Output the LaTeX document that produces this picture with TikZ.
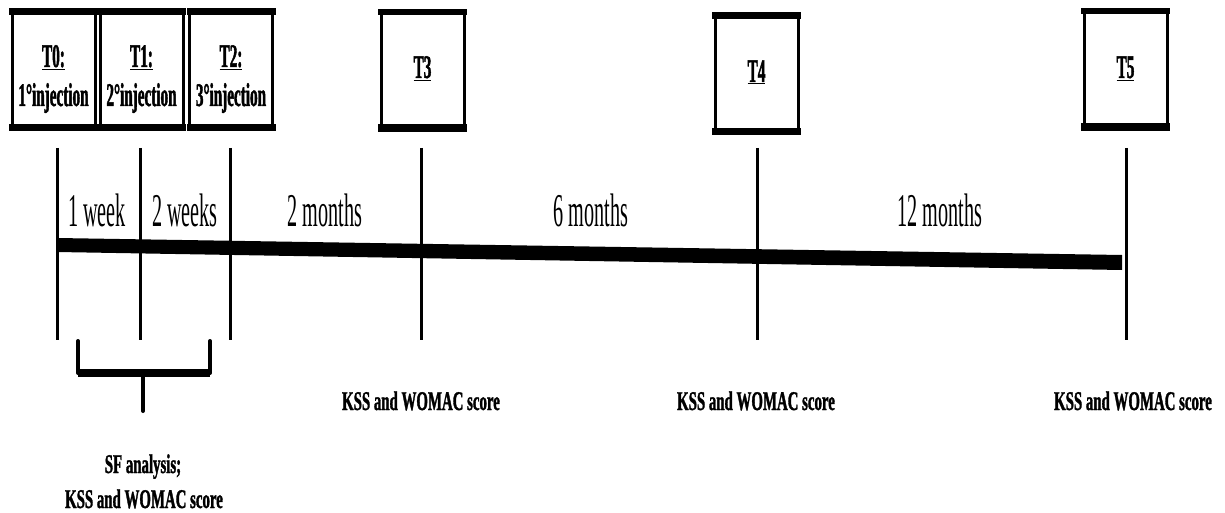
\documentclass[tikz,border=0pt]{standalone}
\usepackage{fontspec}
\setmainfont{Liberation Serif}
\newfontfamily\tlfont[FakeStretch=0.43]{Liberation Serif}
\newfontfamily\bxfont[FakeStretch=0.46,BoldFeatures={FakeBold=1.2}]{Liberation Serif}
\newfontfamily\scfont[FakeStretch=0.55,BoldFeatures={FakeBold=1.2}]{Liberation Serif}
\begin{document}
\begin{tikzpicture}[x=1pt,y=-1pt,
  tbox/.style={draw, line width=3pt, minimum width=83pt, minimum height=117pt, inner sep=0pt},
  blbl/.style={anchor=base, inner sep=0pt, font=\bxfont\bfseries\fontsize{33}{38}\selectfont},
  tlbl/.style={anchor=base, inner sep=0pt, font=\tlfont\fontsize{47}{52}\selectfont},
  slbl/.style={anchor=base, inner sep=0pt, font=\scfont\bfseries\fontsize{27}{32}\selectfont},
  tick/.style={line width=3pt},
  brk/.style={line width=4pt, line cap=round, line join=round}]
\useasboundingbox (0,0) rectangle (1225,513);
% boxes
\node[tbox] (b0) at (53.5,70) {};
\node[tbox] (b1) at (141.5,70) {};
\node[tbox] (b2) at (231,70) {};
\node[tbox] (b3) at (422.5,70.5) {};
\node[tbox] (b4) at (756.5,74) {};
\node[tbox] (b5) at (1125.5,69.5) {};
\foreach \b in {b0,b1,b2,b3,b4,b5}{
  \fill ([xshift=-1.5pt,yshift=1.5pt]\b.north west) rectangle ([xshift=1.5pt,yshift=-5pt]\b.north east);
  \fill ([xshift=-1.5pt,yshift=-1.5pt]\b.south west) rectangle ([xshift=1.5pt,yshift=6pt]\b.south east);
}
% box labels
\node[blbl] (l0a) at (53.5,67) {\underline{T0:}};
\node[blbl] (l0b) at (53.5,106) {1°injection};
\node[blbl] (l1a) at (141.5,67) {\underline{T1:}};
\node[blbl] (l1b) at (141.5,106) {2°injection};
\node[blbl] (l2a) at (231,67) {\underline{T2:}};
\node[blbl] (l2b) at (231,106) {3°injection};
\node[blbl] (l3) at (422.5,78) {\underline{T3}};
\node[blbl] (l4) at (756.5,82) {\underline{T4}};
\node[blbl] (l5) at (1125.5,78) {\underline{T5}};
% timeline bar
\coordinate (bs) at (57,245);
\coordinate (be) at (1122,262.5);
\fill (57,238) -- (1122,255) -- (1122,270) -- (57,252) -- cycle;
% ticks
\foreach \n/\x in {0/57,1/140,2/230,3/421,4/757,5/1126}{
  \coordinate (tt\n) at (\x,148);
  \coordinate (tb\n) at (\x,340);
  \draw[tick] (tt\n) -- (tb\n);
}
% interval labels
\node[tlbl] (w1) at (97,226) {1 week};
\node[tlbl] (w2) at (185,226) {2 weeks};
\node[tlbl] (m2) at (325,226) {2 months};
\node[tlbl] (m6) at (591,226) {6 months};
\node[tlbl] (m12) at (940,226) {12 months};
% bracket
\coordinate (bl) at (78,341);
\coordinate (blc) at (78,373);
\coordinate (brc) at (210,373);
\coordinate (br) at (210,341);
\coordinate (bm) at (143,373);
\coordinate (bt) at (143,411);
\draw[brk] (bl) -- (blc) -- (brc) -- (br);
\draw[line width=8pt] (blc) -- (brc);
\draw[brk] (bm) -- (bt);
% score labels
\node[slbl] (s3) at (421,410) {KSS and WOMAC score};
\node[slbl] (s4) at (756,410) {KSS and WOMAC score};
\node[slbl] (s5) at (1133,410) {KSS and WOMAC score};
\node[slbl] (sfa) at (143,473) {SF analysis;};
\node[slbl] (sfb) at (144,508) {KSS and WOMAC score};
\end{tikzpicture}
\end{document}
